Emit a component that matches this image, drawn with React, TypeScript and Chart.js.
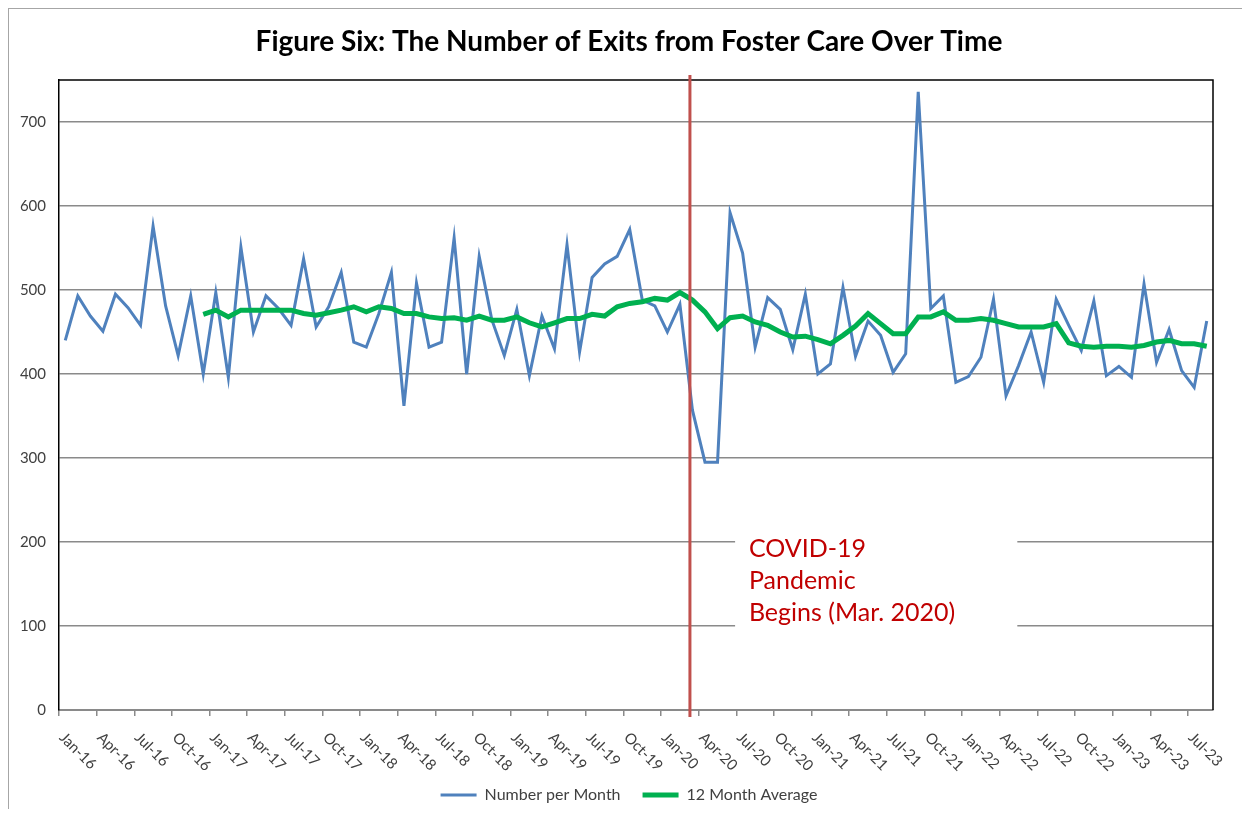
import React, { useEffect, useRef } from "react";
import { Chart, registerables } from "chart.js";

Chart.register(...registerables);

// ---------- data ----------
const TICK_LABELS = [
  "Jan-16", "Apr-16", "Jul-16", "Oct-16",
  "Jan-17", "Apr-17", "Jul-17", "Oct-17",
  "Jan-18", "Apr-18", "Jul-18", "Oct-18",
  "Jan-19", "Apr-19", "Jul-19", "Oct-19",
  "Jan-20", "Apr-20", "Jul-20", "Oct-20",
  "Jan-21", "Apr-21", "Jul-21", "Oct-21",
  "Jan-22", "Apr-22", "Jul-22", "Oct-22",
  "Jan-23", "Apr-23", "Jul-23",
];

// Number of exits per month, Jan-16 .. Aug-23 (92 months)
const NUMBER_PER_MONTH = [
  440, 493, 469, 451, 495, 479, 458, 576, 481, 422, 493, 400,
  497, 396, 551, 450, 493, 478, 458, 537, 456, 480, 521, 438,
  432, 472, 521, 362, 508, 432, 438, 562, 400, 540, 465, 422,
  477, 398, 469, 430, 554, 426, 515, 531, 540, 572, 488, 481,
  450, 483, 357, 295, 295, 592, 544, 432, 491, 477, 429, 495,
  400, 412, 503, 421, 463, 446, 402, 424, 736, 478, 493, 390,
  397, 420, 489, 374, 410, 450, 390, 489, 458, 428, 487, 398,
  409, 396, 507, 414, 453, 404, 384, 463,
];

// 12 month average, starting Dec-16 (month index 11)
const AVERAGE_START = 11;
const TWELVE_MONTH_AVERAGE = [
  471, 476, 468, 476, 476, 476, 476, 476, 472, 470,
  473, 476, 480, 474, 480, 478, 472, 472, 468, 466,
  467, 464, 469, 464, 464, 468, 461, 456, 461, 466,
  466, 471, 469, 480, 484, 486, 490, 488, 497, 488,
  474, 454, 467, 469, 462, 458, 450, 444, 445, 441,
  436, 446, 457, 472, 460, 448, 448, 468, 468, 474,
  464, 464, 466, 464, 460, 456, 456, 456, 460, 437,
  433, 432, 433, 433, 432, 434, 438, 440, 436, 436, 433,
];

const Y_TICKS = [0, 100, 200, 300, 400, 500, 600, 700];
const MONTH_COUNT = NUMBER_PER_MONTH.length;

// Annotation (COVID-19 start, Mar-20)
const COVID_MONTH = 49.8;
const ANNOTATION_LINES = ["COVID-19", "Pandemic", "Begins (Mar. 2020)"];
const ANNOTATION_BOX = { x0: 53.4, x1: 75.9, y0: 215, y1: 80 };
const ANNOTATION_TEXT = { x: 54.5, y: 192 };

// ---------- styling ----------
const FONT = "Lato";
const BLUE = "#4f81bd";
const GREEN = "#00b050";
const GRID = "#8a8a8a";
const TEXT = "#404040";
const LEGEND_SHIFT = 18;
const TITLE_SHIFT = 18;

const decorPlugin = {
  id: "decor",
  afterLayout(chart: any) {
    if (chart.legend) {
      chart.legend.left += LEGEND_SHIFT;
      chart.legend.right += LEGEND_SHIFT;
    }
    if (chart.titleBlock) {
      chart.titleBlock.left += TITLE_SHIFT;
      chart.titleBlock.right += TITLE_SHIFT;
    }
  },
  beforeDatasetsDraw(chart: any) {
    const { ctx, chartArea } = chart;
    ctx.save();
    ctx.strokeStyle = "#000";
    ctx.lineWidth = 1.5;
    ctx.beginPath();
    ctx.moveTo(chartArea.left, chartArea.top);
    ctx.lineTo(chartArea.right, chartArea.top);
    ctx.lineTo(chartArea.right, chartArea.bottom);
    ctx.stroke();
    ctx.restore();
  },
  afterDatasetsDraw(chart: any) {
    const { ctx, chartArea, scales } = chart;
    const xs = scales.x;
    const ys = scales.y;
    ctx.save();
    // annotation box
    const l = xs.getPixelForValue(ANNOTATION_BOX.x0);
    const r = xs.getPixelForValue(ANNOTATION_BOX.x1);
    const t = ys.getPixelForValue(ANNOTATION_BOX.y0);
    const b = ys.getPixelForValue(ANNOTATION_BOX.y1);
    ctx.fillStyle = "#ffffff";
    ctx.fillRect(l, t, r - l, b - t);
    ctx.fillStyle = "#c00000";
    ctx.font = `25px ${FONT}`;
    ctx.textAlign = "left";
    ctx.textBaseline = "middle";
    const tx = xs.getPixelForValue(ANNOTATION_TEXT.x);
    const ty = ys.getPixelForValue(ANNOTATION_TEXT.y);
    ANNOTATION_LINES.forEach((line, i) => ctx.fillText(line, tx, ty + i * 32));
    // covid vertical line
    const cx = xs.getPixelForValue(COVID_MONTH);
    ctx.strokeStyle = "#c0504d";
    ctx.lineWidth = 3;
    ctx.beginPath();
    ctx.moveTo(cx, chartArea.top - 5);
    ctx.lineTo(cx, chartArea.bottom + 7);
    ctx.stroke();
    ctx.restore();
  },
  afterDraw(chart: any) {
    const { ctx, chartArea, scales } = chart;
    const xs = scales.x;
    ctx.save();
    ctx.font = `15px ${FONT}`;
    ctx.fillStyle = TEXT;
    ctx.textAlign = "left";
    ctx.textBaseline = "middle";
    TICK_LABELS.forEach((label, k) => {
      const px = xs.getPixelForValue(-0.5 + 3 * k);
      ctx.save();
      ctx.translate(px + 3, chartArea.bottom + 25);
      ctx.rotate(Math.PI / 4);
      ctx.fillText(label, 0, 0);
      ctx.restore();
    });
    ctx.restore();
  },
};

export default function App() {
  const canvasRef = useRef<HTMLCanvasElement | null>(null);

  useEffect(() => {
    if (!canvasRef.current) return;
    Chart.defaults.font.family = FONT;
    const chart = new Chart(canvasRef.current, {
      type: "line",
      data: {
        datasets: [
          {
            label: "Number per Month",
            data: NUMBER_PER_MONTH.map((v, i) => ({ x: i, y: v })),
            borderColor: BLUE,
            backgroundColor: BLUE,
            borderWidth: 3,
            pointRadius: 0,
            tension: 0,
            order: 1,
          },
          {
            label: "12 Month Average",
            data: TWELVE_MONTH_AVERAGE.map((v, k) => ({ x: AVERAGE_START + k, y: v })),
            borderColor: GREEN,
            backgroundColor: GREEN,
            borderWidth: 5,
            pointRadius: 0,
            tension: 0,
            order: 0,
          },
        ],
      },
      options: {
        responsive: false,
        animation: false,
        events: [],
        layout: { padding: { left: 0, right: 29, top: 0, bottom: -4 } },
        scales: {
          x: {
            type: "linear",
            min: -0.5,
            max: MONTH_COUNT - 0.5,
            afterBuildTicks: (scale: any) => {
              scale.ticks = TICK_LABELS.map((_, k) => ({ value: -0.5 + 3 * k }));
            },
            afterFit: (scale: any) => {
              scale.height = 55;
            },
            ticks: { display: false },
            grid: {
              display: true,
              drawOnChartArea: false,
              drawTicks: true,
              tickLength: 6,
              color: GRID,
              lineWidth: 1.5,
            },
            border: { display: true, color: GRID, width: 2 },
          },
          y: {
            type: "linear",
            min: 0,
            max: 750,
            afterBuildTicks: (scale: any) => {
              scale.ticks = Y_TICKS.map((v) => ({ value: v }));
            },
            afterFit: (scale: any) => {
              scale.width = 50;
            },
            ticks: {
              padding: 13,
              color: TEXT,
              font: { size: 15, family: FONT },
            },
            grid: { color: GRID, lineWidth: 1.5, drawTicks: false },
            border: { display: true, color: "#000", width: 1.5 },
          },
        },
        plugins: {
          title: {
            display: true,
            text: "Figure Six: The Number of Exits from Foster Care Over Time",
            color: "#000",
            font: { size: 28, weight: "bold", family: FONT, lineHeight: 1.2 },
            padding: { top: 16, bottom: 21.4 },
          },
          legend: {
            position: "bottom",
            labels: {
              usePointStyle: true,
              pointStyle: "line",
              pointStyleWidth: 36,
              padding: 22,
              color: TEXT,
              font: { size: 16, family: FONT },
              sort: (a: any, b: any) => a.datasetIndex - b.datasetIndex,
            },
          },
          tooltip: { enabled: false },
        },
      } as any,
      plugins: [decorPlugin],
    });
    return () => chart.destroy();
  }, []);

  return (
    <div
      style={{
        width: 1234,
        height: 801,
        boxSizing: "border-box",
        borderTop: "1px solid #a6a6a6",
        borderLeft: "1px solid #a6a6a6",
        background: "#fff",
      }}
    >
      <canvas ref={canvasRef} width={1233} height={800} style={{ display: "block" }} />
    </div>
  );
}
